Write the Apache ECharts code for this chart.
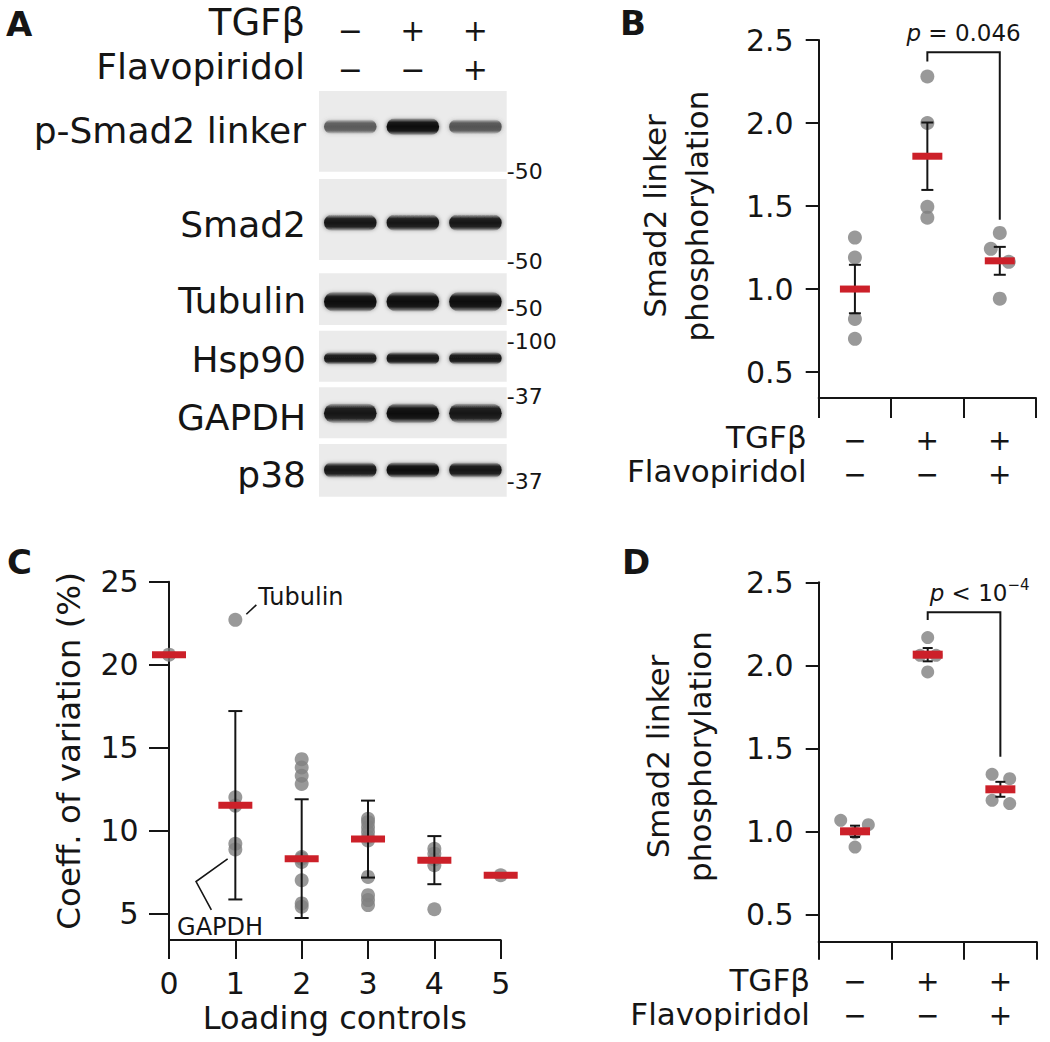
<!DOCTYPE html>
<html><head><meta charset="utf-8">
<script src="https://cdn.jsdelivr.net/npm/echarts@6/dist/echarts.min.js"></script>
<style>html,body{margin:0;padding:0;background:#fff}#c{width:1050px;height:1042px}</style>
</head><body><div id="c"></div>
<script>
// ================= DATA =================
const lanesTGF = ['−', '+', '+'];
const lanesFlavo = ['−', '−', '+'];
const blotProteins = ['p-Smad2 linker', 'Smad2', 'Tubulin', 'Hsp90', 'GAPDH', 'p38'];
// relative band intensities per lane
const bandPSmad2 = [0.45, 1.0, 0.5];
const bandSmad2 = [0.93, 0.95, 0.95];
const bandTubulin = [1.0, 1.0, 1.0];
const bandHsp90 = [0.92, 0.96, 0.92];
const bandGAPDH = [0.96, 1.0, 0.96];
const bandP38 = [0.95, 1.0, 0.94];
const mwLabels = ['50', '50', '50', '100', '37', '37'];

// Panel B
const yTicksB = [0.5, 1.0, 1.5, 2.0, 2.5];
const dotsB = [[1.31, 1.19, 0.82, 0.70], [2.28, 2.00, 1.495, 1.43], [1.338, 1.242, 1.164, 0.942]];
const jitterB = [[0, 0, 0, 0], [0, 0, 0, 0], [0, -0.124, 0.124, 0]];
const meanB = [1.0, 1.80, 1.17];
const semB = [0.146, 0.203, 0.084];
const bracketB = [1, 2, 2.426, 2.37, 1.418]; // from group, to group, top, left end, right end
const pTextB = '{i|p} = 0.046';

// Panel C
const yTicksC = [5, 10, 15, 20, 25];
const dotsC = [
  [20.6],
  [22.7, 12.0, 11.5, 9.2, 8.85],
  [14.3, 13.8, 13.3, 12.8, 8.4, 8.3, 8.1, 7.0, 5.6, 5.4],
  [10.7, 10.5, 10.2, 9.9, 9.6, 9.4, 7.2, 6.1, 5.8, 5.5],
  [8.9, 8.6, 8.25, 7.9, 5.25],
  [7.3]
];
const medC = [20.6, 11.52, 8.3, 9.48, 8.21, 7.3];
const sdC = [0, 5.68, 3.58, 2.32, 1.45, 0];
const annoC = [{label: 'Tubulin', group: 1, idx: 0}, {label: 'GAPDH', group: 1, idx: 4}];

// Panel D
const yTicksD = [0.5, 1.0, 1.5, 2.0, 2.5];
const dotsD = [[1.066, 1.04, 0.99, 0.905], [2.167, 2.06, 2.06, 1.96], [1.343, 1.317, 1.187, 1.167]];
const jitterD = [[-0.197, 0.183, 0, 0], [0, -0.105, 0.115, 0], [-0.114, 0.128, -0.114, 0.128]];
const meanD = [1.0, 2.064, 1.253];
const semD = [0.034, 0.04, 0.045];
const bracketD = [1, 2, 2.319, 2.273, 1.449];
const pTextD = '{i|p} < 10{s|−4}';

// ================= LAYOUT / STYLE =================
const FONT = 'DejaVu Sans';
const INK = '#151515';
const RED = '#cc2029';
const DOT = '#808080';
const blotRows = [ // px offsets from top of blot area
  {top: 0, bottom: 80.7, band: 35.7, h: 17},
  {top: 88, bottom: 169, band: 131.7, h: 16.5},
  {top: 182.3, bottom: 234, band: 210.7, h: 20},
  {top: 239.7, bottom: 290.7, band: 267.3, h: 12.5},
  {top: 296.3, bottom: 347.3, band: 322.3, h: 20},
  {top: 353, bottom: 405.7, band: 379, h: 15.5}
];
const blotLabelY = [39, 133.7, 209.3, 268.5, 326.5, 383];
const mwY = [80.7, 170, 217.3, 250.7, 305.7, 390];
const blotBands = [bandPSmad2, bandSmad2, bandTubulin, bandHsp90, bandGAPDH, bandP38];

const signCats = lanesTGF.map((t, i) => t + '\n' + lanesFlavo[i]);

function dotData(groups, jit, offset) {
  const out = [];
  groups.forEach((g, gi) => g.forEach((v, k) => out.push([gi + offset + (jit ? jit[gi][k] : 0), v])));
  return out;
}
function meanErrRender(cfg) {
  return function (params, api) {
    const x = api.value(0), m = api.value(1), h = api.value(2);
    const c = api.coord([x, m]);
    const ch = [];
    if (h > 0) {
      const t = api.coord([x, m + h]), b = api.coord([x, m - h]);
      const ls = {stroke: INK, lineWidth: 2};
      ch.push({type: 'line', shape: {x1: c[0], y1: t[1], x2: c[0], y2: b[1]}, style: ls});
      ch.push({type: 'line', shape: {x1: c[0] - cfg.cap / 2, y1: t[1], x2: c[0] + cfg.cap / 2, y2: t[1]}, style: ls});
      ch.push({type: 'line', shape: {x1: c[0] - cfg.cap / 2, y1: b[1], x2: c[0] + cfg.cap / 2, y2: b[1]}, style: ls});
    }
    ch.push({type: 'rect', shape: {x: c[0] - cfg.w / 2, y: c[1] - cfg.h / 2, width: cfg.w, height: cfg.h}, style: {fill: RED}});
    return {type: 'group', children: ch};
  };
}
function bracketRender(cfg) {
  return function (params, api) {
    const x1 = api.value(0) + 0.5, x2 = api.value(1) + 0.5;
    const top = api.value(2), le = api.value(3), re = api.value(4);
    const a = api.coord([x1, le]), b = api.coord([x1, top]), c = api.coord([x2, top]), d = api.coord([x2, re]);
    const tx = cfg.align === 'center' ? (b[0] + c[0]) / 2 : b[0] + cfg.dx;
    return {type: 'group', children: [
      {type: 'polyline', shape: {points: [a, b, c, d]}, style: {stroke: INK, lineWidth: 2, fill: null}},
      {type: 'text', x: tx, y: b[1] - cfg.gap, style: {
        text: cfg.text, fontFamily: FONT, fontSize: 23, lineHeight: 32, fill: INK,
        align: cfg.align, verticalAlign: 'middle',
        rich: {
          i: {fontStyle: 'italic', fontSize: 23, lineHeight: 32, fontFamily: FONT, fill: INK},
          s: {fontSize: 15, lineHeight: 15, verticalAlign: 'top', fontFamily: FONT, fill: INK}
        }
      }}
    ]};
  };
}
const axLine = {show: true, onZero: false, lineStyle: {color: INK, width: 2}};
const tickStyle = {color: INK, width: 2};

const option = {
  animation: false,
  backgroundColor: '#ffffff',
  textStyle: {fontFamily: FONT, color: INK},
  grid: [
    {left: 319, top: 91, width: 187.7, height: 405.7, outerBoundsMode: 'none'},
    {left: 818.7, top: 40, width: 217.3, height: 358, outerBoundsMode: 'none'},
    {left: 169, top: 581.7, width: 331.7, height: 358.3, outerBoundsMode: 'none'},
    {left: 818.7, top: 582.3, width: 218, height: 359.4, outerBoundsMode: 'none'}
  ],
  xAxis: [
    {gridIndex: 0, type: 'value', min: 0, max: 3, show: false},
    {gridIndex: 0, type: 'category', position: 'top', data: signCats,
      axisLine: {show: false}, axisTick: {show: false}, splitLine: {show: false},
      axisLabel: {fontSize: 30, lineHeight: 39, margin: 2.5, color: INK, fontFamily: FONT}},
    {gridIndex: 1, type: 'value', min: 0, max: 3, interval: 1, axisLine: axLine,
      axisTick: {show: true, length: 20, lineStyle: tickStyle}, axisLabel: {show: false}, splitLine: {show: false}},
    {gridIndex: 1, type: 'category', position: 'bottom', data: signCats,
      axisLine: {show: false}, axisTick: {show: false}, splitLine: {show: false},
      axisLabel: {fontSize: 28, lineHeight: 34, margin: 25, color: INK, fontFamily: FONT}},
    {gridIndex: 2, type: 'value', min: 0, max: 5, interval: 1, axisLine: axLine,
      axisTick: {show: true, length: 19, lineStyle: tickStyle},
      axisLabel: {fontSize: 30, lineHeight: 30, margin: 28, color: INK, fontFamily: FONT}, splitLine: {show: false},
      name: 'Loading controls', nameLocation: 'middle', nameGap: 62,
      nameTextStyle: {fontSize: 32, lineHeight: 32, color: INK, fontFamily: FONT}},
    {gridIndex: 3, type: 'value', min: 0, max: 3, interval: 1, axisLine: axLine,
      axisTick: {show: true, length: 18, lineStyle: tickStyle}, axisLabel: {show: false}, splitLine: {show: false}},
    {gridIndex: 3, type: 'category', position: 'bottom', data: signCats,
      axisLine: {show: false}, axisTick: {show: false}, splitLine: {show: false},
      axisLabel: {fontSize: 28, lineHeight: 34, margin: 23, color: INK, fontFamily: FONT}}
  ],
  yAxis: [
    {gridIndex: 0, type: 'value', min: 0, max: 405.7, inverse: true,
      axisLine: {show: false}, axisTick: {show: false}, splitLine: {show: false},
      axisLabel: {customValues: blotLabelY, formatter: v => blotProteins[blotLabelY.indexOf(v)],
        fontSize: 36, margin: 13, color: INK, fontFamily: FONT}},
    {gridIndex: 0, type: 'value', position: 'right', min: 0, max: 405.7, inverse: true,
      axisLine: {show: false}, axisTick: {show: false}, splitLine: {show: false},
      axisLabel: {customValues: mwY, formatter: v => '-' + mwLabels[mwY.indexOf(v)],
        fontSize: 22, margin: 0, color: INK, fontFamily: FONT}},
    {gridIndex: 1, type: 'value', min: 0.3438, max: 2.5, axisLine: axLine,
      axisTick: {show: true, length: 13, customValues: yTicksB, lineStyle: tickStyle},
      axisLabel: {customValues: yTicksB, formatter: v => v.toFixed(1), fontSize: 30, margin: 25, color: INK, fontFamily: FONT},
      splitLine: {show: false},
      name: 'Smad2 linker\nphosphorylation', nameLocation: 'middle', nameGap: 101,
      nameTextStyle: {fontSize: 31, lineHeight: 42, color: INK, fontFamily: FONT, padding: [0, 0, 0, 6]}},
    {gridIndex: 2, type: 'value', min: 3.395, max: 25, axisLine: axLine,
      axisTick: {show: true, length: 20, customValues: yTicksC, lineStyle: tickStyle},
      axisLabel: {customValues: yTicksC, fontSize: 30, margin: 30.4, color: INK, fontFamily: FONT},
      splitLine: {show: false},
      name: 'Coeff. of variation (%)', nameLocation: 'middle', nameGap: 84,
      nameTextStyle: {fontSize: 32.5, lineHeight: 32, color: INK, fontFamily: FONT, padding: [0, 0, 0, 20]}},
    {gridIndex: 3, type: 'value', min: 0.335, max: 2.5, axisLine: axLine,
      axisTick: {show: true, length: 13, customValues: yTicksD, lineStyle: tickStyle},
      axisLabel: {customValues: yTicksD, formatter: v => v.toFixed(1), fontSize: 30, margin: 25, color: INK, fontFamily: FONT},
      splitLine: {show: false},
      name: 'Smad2 linker\nphosphorylation', nameLocation: 'middle', nameGap: 98,
      nameTextStyle: {fontSize: 31, lineHeight: 42, color: INK, fontFamily: FONT, padding: [0, 0, 0, 11]}}
  ],
  series: [
    // blot strips
    {type: 'custom', xAxisIndex: 0, yAxisIndex: 0, z: 1, silent: true,
      data: blotRows.map((r, i) => [i]),
      renderItem: (params, api) => {
        const r = blotRows[api.value(0)];
        const p0 = api.coord([0, r.top]), p1 = api.coord([3, r.bottom]);
        return {type: 'rect', shape: {x: p0[0], y: p0[1], width: p1[0] - p0[0], height: p1[1] - p0[1]}, style: {fill: '#ebebeb'}};
      }},
    // blot bands
    {type: 'custom', xAxisIndex: 0, yAxisIndex: 0, z: 2, silent: true,
      data: blotBands.flatMap((lanes, ri) => lanes.map((v, li) => [li + 0.5, ri, v])),
      renderItem: (params, api) => {
        const lane = api.value(0), ri = api.value(1), inten = api.value(2);
        const r = blotRows[ri];
        const c = api.coord([lane, r.band]);
        const w = api.size([0.84, 0])[0];
        const h = r.h * (0.7 + 0.3 * inten);
        const g = Math.round(140 * (1 - inten)) + 14;
        const col = 'rgba(' + g + ',' + g + ',' + g + ',';
        return {type: 'rect', shape: {x: c[0] - w / 2, y: c[1] - h / 2, width: w, height: h, r: h / 2},
          style: {fill: new echarts.graphic.LinearGradient(0, 0, 0, 1, [
            {offset: 0, color: col + '0.05)'}, {offset: 0.25, color: col + '0.9)'},
            {offset: 0.5, color: col + '1)'}, {offset: 0.75, color: col + '0.9)'}, {offset: 1, color: col + '0.05)'}]),
            shadowBlur: 4, shadowColor: col + '0.6)'}};
      }},
    // Panel B
    {type: 'scatter', xAxisIndex: 2, yAxisIndex: 2, z: 2, symbolSize: 14, itemStyle: {color: DOT},
      data: dotData(dotsB, jitterB, 0.5)},
    {type: 'custom', xAxisIndex: 2, yAxisIndex: 2, z: 3, data: meanB.map((m, i) => [i + 0.5, m, semB[i]]),
      renderItem: meanErrRender({w: 30, h: 7, cap: 12})},
    {type: 'custom', xAxisIndex: 2, yAxisIndex: 2, z: 3, data: [bracketB],
      renderItem: bracketRender({text: pTextB, align: 'center', gap: 19, dx: 0})},
    // Panel C
    {type: 'scatter', xAxisIndex: 4, yAxisIndex: 3, z: 2, symbolSize: 14, itemStyle: {color: DOT},
      data: dotData(dotsC, null, 0)},
    {type: 'custom', xAxisIndex: 4, yAxisIndex: 3, z: 3, data: medC.map((m, i) => [i, m, sdC[i]]),
      renderItem: meanErrRender({w: 34, h: 7, cap: 14})},
    {type: 'custom', xAxisIndex: 4, yAxisIndex: 3, z: 3,
      data: annoC.map(a => [a.group, dotsC[a.group][a.idx]]),
      renderItem: (params, api) => {
        const c = api.coord([api.value(0), api.value(1)]);
        const ls = {stroke: INK, lineWidth: 1.6, fill: null};
        const ts = {fontFamily: FONT, fontSize: 24, fill: INK, align: 'left', verticalAlign: 'middle'};
        if (params.dataIndex === 0) {
          return {type: 'group', children: [
            {type: 'line', shape: {x1: c[0] + 11, y1: c[1] - 5.6, x2: c[0] + 21, y2: c[1] - 15}, style: ls},
            {type: 'text', x: c[0] + 23, y: c[1] - 23, style: Object.assign({text: annoC[0].label}, ts)}
          ]};
        }
        return {type: 'group', children: [
          {type: 'polyline', shape: {points: [[c[0] - 7.7, c[1] + 9.4], [c[0] - 39.3, c[1] + 32], [c[0] - 24, c[1] + 60.4]]}, style: ls},
          {type: 'text', x: c[0] - 58.3, y: c[1] + 77, style: Object.assign({text: annoC[1].label}, ts)}
        ]};
      }},
    // Panel D
    {type: 'scatter', xAxisIndex: 5, yAxisIndex: 4, z: 2, symbolSize: 13, itemStyle: {color: DOT},
      data: dotData(dotsD, jitterD, 0.5)},
    {type: 'custom', xAxisIndex: 5, yAxisIndex: 4, z: 3, data: meanD.map((m, i) => [i + 0.5, m, semD[i]]),
      renderItem: meanErrRender({w: 30, h: 8, cap: 10})},
    {type: 'custom', xAxisIndex: 5, yAxisIndex: 4, z: 3, data: [bracketD],
      renderItem: bracketRender({text: pTextD, align: 'left', gap: 19, dx: 2})}
  ],
  graphic: [
    {type: 'text', x: 6, y: 24, style: {text: 'A', fontFamily: FONT, fontWeight: 'bold', fontSize: 34, fill: INK, align: 'left', verticalAlign: 'middle'}},
    {type: 'text', x: 620, y: 22.5, style: {text: 'B', fontFamily: FONT, fontWeight: 'bold', fontSize: 34, fill: INK, align: 'left', verticalAlign: 'middle'}},
    {type: 'text', x: 7, y: 562, style: {text: 'C', fontFamily: FONT, fontWeight: 'bold', fontSize: 34, fill: INK, align: 'left', verticalAlign: 'middle'}},
    {type: 'text', x: 622, y: 562, style: {text: 'D', fontFamily: FONT, fontWeight: 'bold', fontSize: 34, fill: INK, align: 'left', verticalAlign: 'middle'}},
    {type: 'text', x: 305, y: 22.5, style: {text: 'TGFβ', fontFamily: FONT, fontSize: 37, fill: INK, align: 'right', verticalAlign: 'middle'}},
    {type: 'text', x: 305, y: 66.5, style: {text: 'Flavopiridol', fontFamily: FONT, fontSize: 36, fill: INK, align: 'right', verticalAlign: 'middle'}},
    {type: 'text', x: 806.7, y: 437, style: {text: 'TGFβ', fontFamily: FONT, fontSize: 31, fill: INK, align: 'right', verticalAlign: 'middle'}},
    {type: 'text', x: 806.7, y: 471, style: {text: 'Flavopiridol', fontFamily: FONT, fontSize: 31, fill: INK, align: 'right', verticalAlign: 'middle'}},
    {type: 'text', x: 810, y: 980, style: {text: 'TGFβ', fontFamily: FONT, fontSize: 31, fill: INK, align: 'right', verticalAlign: 'middle'}},
    {type: 'text', x: 810, y: 1014, style: {text: 'Flavopiridol', fontFamily: FONT, fontSize: 31, fill: INK, align: 'right', verticalAlign: 'middle'}}
  ]
};
const chart = echarts.init(document.getElementById('c'), null, {renderer: 'svg', width: 1050, height: 1042});
chart.setOption(option);
</script>
</body></html>
